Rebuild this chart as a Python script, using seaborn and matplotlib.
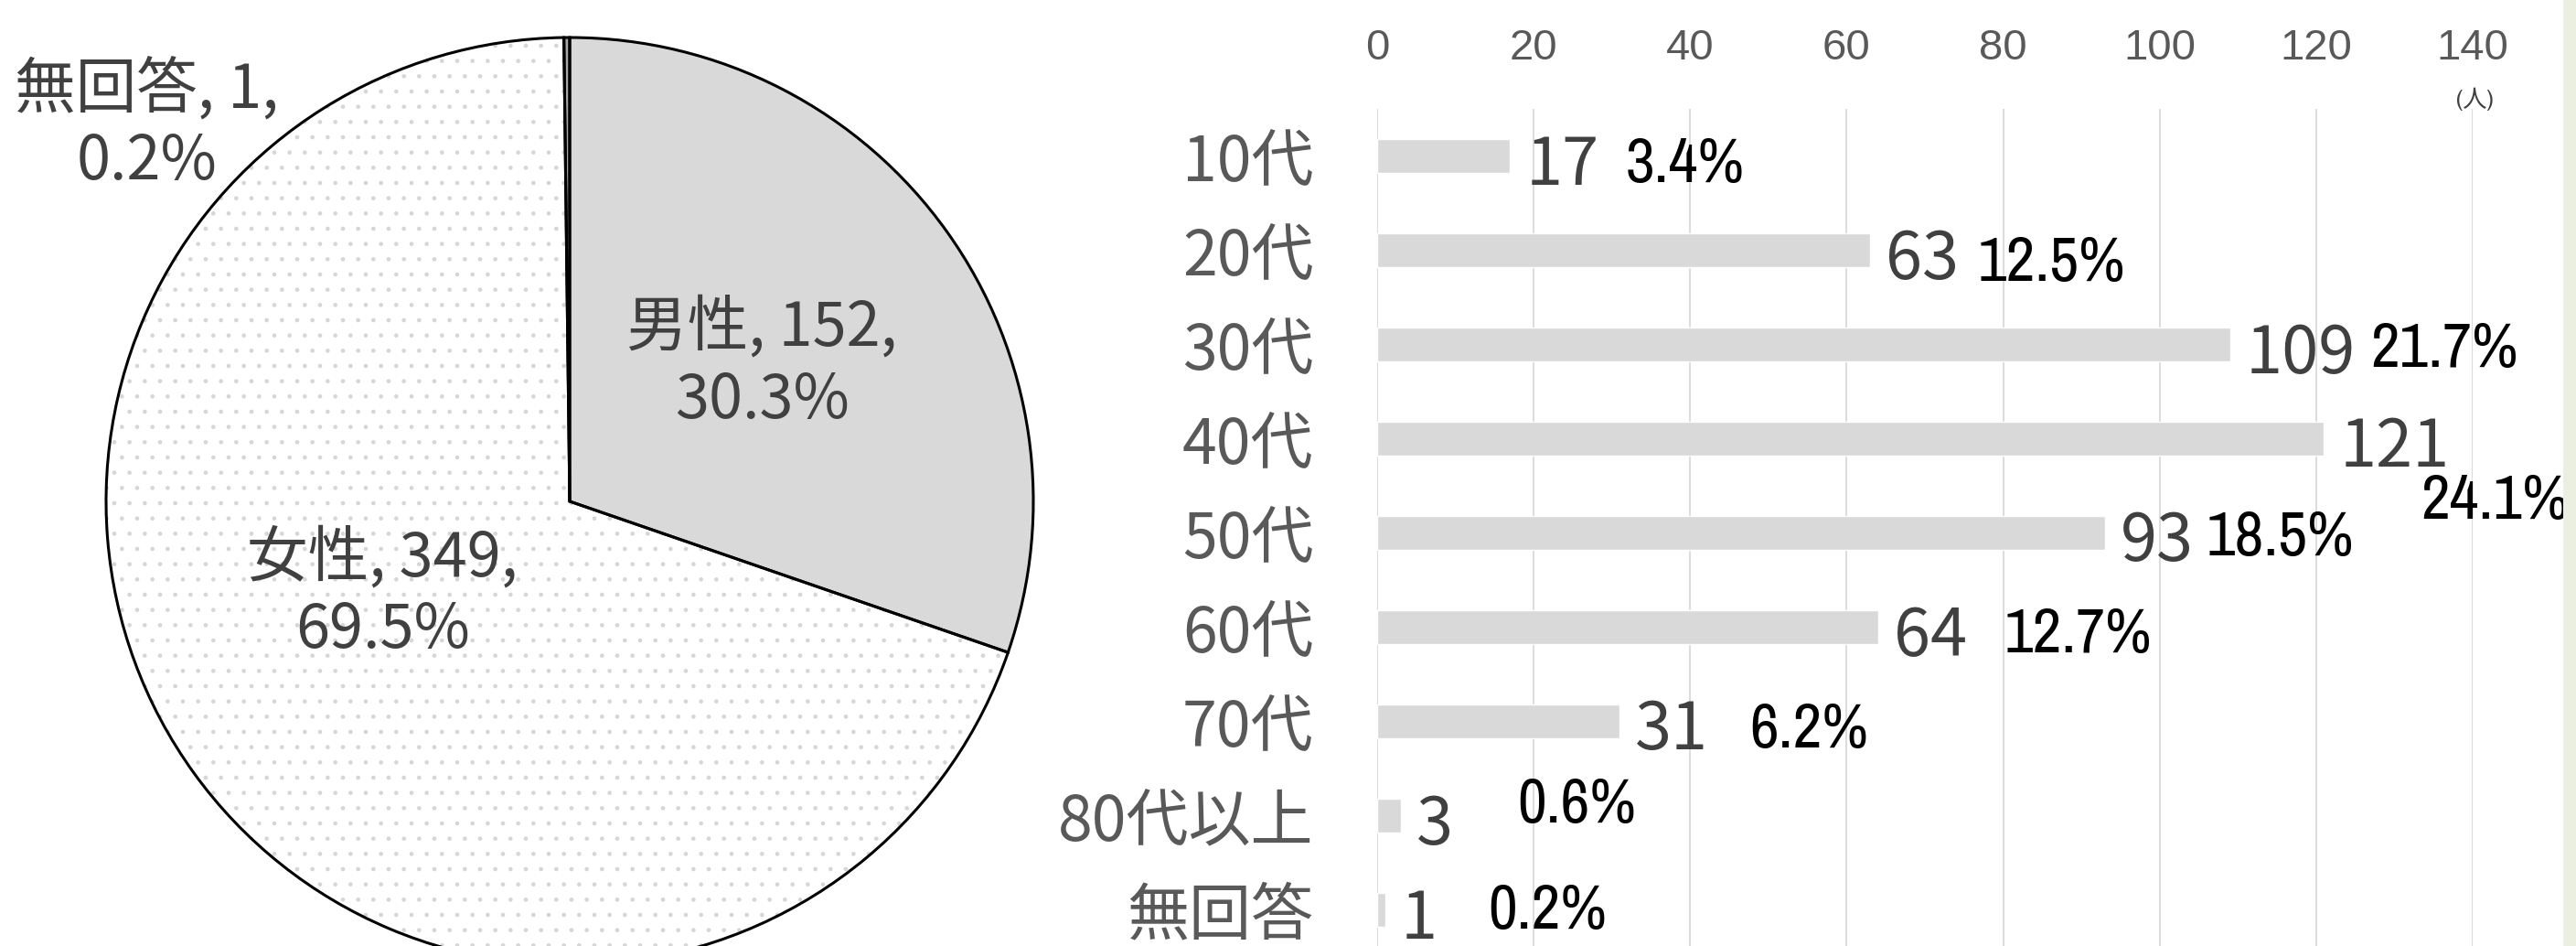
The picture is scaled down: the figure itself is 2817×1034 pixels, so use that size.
import matplotlib
matplotlib.use('Agg')
import matplotlib.pyplot as plt
import seaborn as sns
import numpy as np
import pandas as pd
from matplotlib.patches import Rectangle

# ---------------- data ----------------
gender_labels = ['男性', '女性', '無回答']
gender_counts = [152, 349, 1]
gender_pcts = ['30.3%', '69.5%', '0.2%']

age_labels = ['10代', '20代', '30代', '40代', '50代', '60代', '70代', '80代以上', '無回答']
age_counts = [17, 63, 109, 121, 93, 64, 31, 3, 1]
age_pcts = ['3.4%', '12.5%', '21.7%', '24.1%', '18.5%', '12.7%', '6.2%', '0.6%', '0.2%']
x_ticks = [0, 20, 40, 60, 80, 100, 120, 140]
unit_label = '(人)'

# ---------------- style ----------------
sns.set_theme(style='white')
plt.rcParams['font.family'] = ['Noto Sans CJK JP', 'DejaVu Sans']
plt.rcParams['hatch.linewidth'] = 0.9

W, H = 2817, 1034
fig = plt.figure(figsize=(W / 100, H / 100), dpi=100)
fig.patch.set_facecolor('white')

# light green strip at the right edge
fig.patches.append(Rectangle((2803 / W, 0), 14 / W, 1, transform=fig.transFigure,
                             facecolor='#EBEFDF', edgecolor='none', zorder=0))

# ---------------- pie ----------------
cx, cy, r = 623, 548, 507
ax_pie = fig.add_axes([(cx - r) / W, 1 - (cy + r) / H, 2 * r / W, 2 * r / H])
wedges, _ = ax_pie.pie(gender_counts, startangle=90, counterclock=False,
                       colors=['#D9D9D9', 'white', '#A6A6A6'],
                       wedgeprops=dict(linewidth=0))
wedges[1].set_hatch('.')
wedges[1].set_edgecolor('#D6D6D6')
wedges[1].set_linewidth(0)
ax_pie.pie(gender_counts, startangle=90, counterclock=False,
           wedgeprops=dict(fill=False, edgecolor='black', linewidth=2.2))
ax_pie.set_xlim(-1, 1)
ax_pie.set_ylim(-1, 1)
ax_pie.set_aspect('equal')
ax_pie.axis('off')

fracs = np.array(gender_counts) / np.sum(gender_counts)
ends = 90 - 360 * np.cumsum(fracs)
mids = ends + 180 * fracs
pie_label_shift = [(0.0, 0.51), (-9.5, 0.45), (48.0, 1.22)]  # (angle offset, radius)
for lab, cnt, pct, mid, (da, rad) in zip(gender_labels, gender_counts, gender_pcts, mids, pie_label_shift):
    ang = np.deg2rad(mid + da)
    ax_pie.text(rad * np.cos(ang), rad * np.sin(ang), f'{lab}, {cnt},\n{pct}',
                ha='center', va='center', fontsize=48, color='#404040',
                linespacing=1.22, clip_on=False)

# ---------------- bars ----------------
ax_bar = fig.add_axes([1506 / W, 1 - 1046 / H, (2704 - 1506) / W, (1046 - 119) / H])
df = pd.DataFrame({'age': age_labels, 'count': age_counts})
sns.barplot(data=df, x='count', y='age', orient='h', color='#D9D9D9', saturation=1,
            width=0.35, ax=ax_bar)
ax_bar.set_xlim(0, 140)
ax_bar.set_ylim(len(age_labels) - 0.5, -0.5)
ax_bar.set_xticks(x_ticks)
ax_bar.set_xticklabels([str(t) for t in x_ticks])
ax_bar.xaxis.tick_top()
ax_bar.tick_params(axis='x', top=True, labeltop=True, bottom=False, labelbottom=False,
                   length=0, pad=32, labelsize=34, labelcolor='#595959')
ax_bar.tick_params(axis='y', length=0, pad=50, labelsize=49, labelcolor='#595959')
for t in ax_bar.get_xticklabels():
    t.set_fontfamily(['Liberation Sans', 'DejaVu Sans'])
ax_bar.grid(axis='x', color='#D9D9D9', linewidth=1.3)
ax_bar.grid(axis='y', visible=False)
ax_bar.set_axisbelow(True)
for s in ax_bar.spines.values():
    s.set_visible(False)
ax_bar.set_xlabel('')
ax_bar.set_ylabel('')

pct_dx = [126, 117, 154, 106, 111, 138, 142, 128, 113]
pct_dy = [-28, -33, -24, -88, -24, -28, -28, -8, -21]
for i, (cnt, pct) in enumerate(zip(age_counts, age_pcts)):
    ax_bar.annotate(str(cnt), (cnt, i), xytext=(17, -31), textcoords='offset pixels',
                    ha='left', va='baseline', fontsize=52, color='#404040',
                    annotation_clip=False)
    ax_bar.annotate(pct, (cnt, i), xytext=(pct_dx[i], pct_dy[i]), textcoords='offset pixels',
                    ha='left', va='baseline', fontsize=50, color='black',
                    family=['Archivo Narrow', 'Roboto Condensed', 'DejaVu Sans'],
                    annotation_clip=False)

fig.text(2706 / W, 1 - 108 / H, unit_label, ha='center', va='center', fontsize=19,
         color='#404040', family=['Archivo Narrow', 'Noto Sans CJK JP'])

fig.savefig('out.png', dpi=100, facecolor='white')
